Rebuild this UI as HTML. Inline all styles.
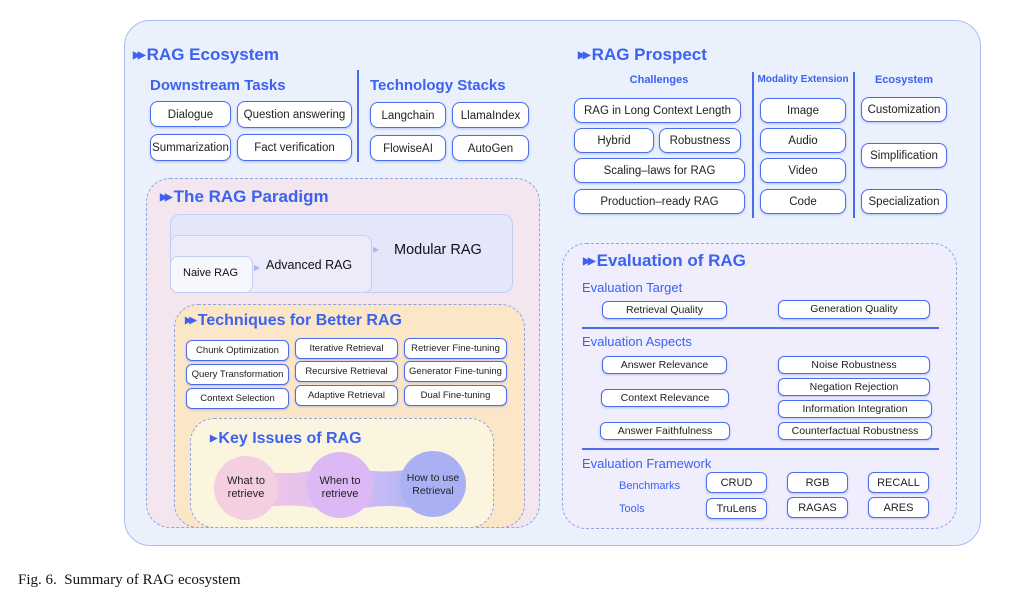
<!DOCTYPE html>
<html><head><meta charset="utf-8"><style>
*{margin:0;padding:0;box-sizing:border-box}
body{width:1011px;height:595px;background:#fff;position:relative;overflow:hidden;font-family:"Liberation Sans",sans-serif}
.a{position:absolute}
.b{position:absolute;display:flex;align-items:center;justify-content:center;text-align:center;background:#fff;border:1.4px solid #4a6cf0;border-radius:8px;font-size:11.5px;color:#222;box-shadow:0 1px 2px rgba(80,110,220,.35);white-space:nowrap;line-height:1.1;padding-top:2px}
.s{font-size:9.5px;border-radius:6px;padding-top:1px}
.t{position:absolute;color:#3c62f0;font-weight:bold;white-space:nowrap}
.h{position:absolute;color:#3c62f0;white-space:nowrap}
.arr{font-size:0.6em;letter-spacing:-3px;margin-right:4px;vertical-align:middle}
.d{position:absolute;border:1.5px dashed #8ea3e6;border-radius:24px}
.ln{position:absolute;background:#4a6cf0}
</style></head><body>
<div class="a" style="left:124px;top:20px;width:857px;height:526px;background:#eaf0fc;border:1.5px solid #a9bdf2;border-radius:26px"></div>

<div class="t" style="left:133px;top:45px;font-size:17px"><span class="arr">▶▶</span>RAG Ecosystem</div>
<div class="t" style="left:150px;top:77px;font-size:15px">Downstream Tasks</div>
<div class="t" style="left:370px;top:77px;font-size:15px">Technology Stacks</div>
<div class="ln" style="left:357px;top:70px;width:1.5px;height:92px"></div>
<div class="b" style="left:150px;top:101px;width:81px;height:26px">Dialogue</div>
<div class="b" style="left:237px;top:101px;width:115px;height:27px">Question answering</div>
<div class="b" style="left:150px;top:134px;width:81px;height:27px">Summarization</div>
<div class="b" style="left:237px;top:134px;width:115px;height:27px">Fact verification</div>
<div class="b" style="left:370px;top:102px;width:76px;height:26px">Langchain</div>
<div class="b" style="left:452px;top:102px;width:77px;height:26px">LlamaIndex</div>
<div class="b" style="left:370px;top:135px;width:76px;height:26px">FlowiseAI</div>
<div class="b" style="left:452px;top:135px;width:77px;height:26px">AutoGen</div>

<div class="t" style="left:578px;top:45px;font-size:17px"><span class="arr">▶▶</span>RAG Prospect</div>
<div class="t" style="left:574px;top:74px;width:170px;text-align:center;font-size:11px">Challenges</div>
<div class="t" style="left:753px;top:74px;width:100px;text-align:center;font-size:10px">Modality Extension</div>
<div class="t" style="left:854px;top:74px;width:100px;text-align:center;font-size:11px">Ecosystem</div>
<div class="ln" style="left:752px;top:72px;width:1.5px;height:146px"></div>
<div class="ln" style="left:853px;top:72px;width:1.5px;height:146px"></div>
<div class="b" style="left:574px;top:98px;width:167px;height:25px">RAG in Long Context Length</div>
<div class="b" style="left:574px;top:128px;width:80px;height:25px">Hybrid</div>
<div class="b" style="left:659px;top:128px;width:82px;height:25px">Robustness</div>
<div class="b" style="left:574px;top:158px;width:171px;height:25px">Scaling–laws for RAG</div>
<div class="b" style="left:574px;top:189px;width:171px;height:25px">Production–ready RAG</div>
<div class="b" style="left:760px;top:98px;width:86px;height:25px">Image</div>
<div class="b" style="left:760px;top:128px;width:86px;height:25px">Audio</div>
<div class="b" style="left:760px;top:158px;width:86px;height:25px">Video</div>
<div class="b" style="left:760px;top:189px;width:86px;height:25px">Code</div>
<div class="b" style="left:861px;top:97px;width:86px;height:25px">Customization</div>
<div class="b" style="left:861px;top:143px;width:86px;height:25px">Simplification</div>
<div class="b" style="left:861px;top:189px;width:86px;height:25px">Specialization</div>

<!-- Paradigm -->
<div class="d" style="left:146px;top:178px;width:394px;height:350px;background:#f3e6ee"></div>
<div class="t" style="left:160px;top:187px;font-size:17px"><span class="arr">▶▶</span>The RAG Paradigm</div>
<div class="a" style="left:170px;top:214px;width:343px;height:79px;background:#e4e6fa;border:1.5px solid #c5cdf5;border-radius:10px"></div>
<div class="a" style="left:170px;top:235px;width:202px;height:58px;background:#ebebfa;border:1.5px solid #c5cdf5;border-radius:8px"></div>
<div class="a" style="left:170px;top:256px;width:83px;height:37px;background:#f7f7fe;border:1.5px solid #c5cdf5;border-radius:8px"></div>
<div class="a" style="left:394px;top:242px;font-size:14.5px;color:#111">Modular RAG</div>
<div class="a" style="left:266px;top:258px;font-size:12.5px;color:#111">Advanced RAG</div>
<div class="a" style="left:183px;top:267px;font-size:11px;color:#111">Naive RAG</div>
<div class="a" style="left:373px;top:245px;color:#a9b8f2;font-size:8px">▶</div>
<div class="a" style="left:254px;top:263px;color:#a9b8f2;font-size:8px">▶</div>

<div class="d" style="left:174px;top:304px;width:351px;height:224px;background:#fbe6c8"></div>
<div class="t" style="left:185px;top:312px;font-size:16px"><span class="arr">▶▶</span>Techniques for Better RAG</div>
<div class="b s" style="left:186px;top:340px;width:103px;height:21px">Chunk Optimization</div>
<div class="b s" style="left:186px;top:364px;width:103px;height:21px">Query Transformation</div>
<div class="b s" style="left:186px;top:388px;width:103px;height:21px">Context Selection</div>
<div class="b s" style="left:295px;top:338px;width:103px;height:21px">Iterative Retrieval</div>
<div class="b s" style="left:295px;top:361px;width:103px;height:21px">Recursive Retrieval</div>
<div class="b s" style="left:295px;top:385px;width:103px;height:21px">Adaptive Retrieval</div>
<div class="b s" style="left:404px;top:338px;width:103px;height:21px">Retriever Fine-tuning</div>
<div class="b s" style="left:404px;top:361px;width:103px;height:21px">Generator Fine-tuning</div>
<div class="b s" style="left:404px;top:385px;width:103px;height:21px">Dual Fine-tuning</div>

<div class="d" style="left:190px;top:418px;width:304px;height:110px;background:#fbf5e0"></div>
<div class="t" style="left:210px;top:430px;font-size:16px"><span class="arr">▶</span>Key Issues of RAG</div>
<svg class="a" style="left:190px;top:440px" width="304" height="90">
<defs><linearGradient id="g" x1="0" x2="1"><stop offset="0" stop-color="#f3c7de"/><stop offset="0.5" stop-color="#dcc0f5"/><stop offset="1" stop-color="#a8b2f5"/></linearGradient></defs>
<path d="M56 28 Q100 40 150 24 Q200 40 243 22 L243 74 Q200 58 150 74 Q100 58 56 72 Z" fill="url(#g)"/>
<circle cx="56" cy="48" r="32" fill="#f4cfe0"/>
<circle cx="150" cy="45" r="33" fill="#dcb9f5"/>
<circle cx="243" cy="44" r="33" fill="#a9b1f4"/>
</svg>
<div class="a" style="left:214px;top:475px;width:64px;text-align:center;font-size:11px;color:#222;line-height:13px">What to<br>retrieve</div>
<div class="a" style="left:308px;top:475px;width:64px;text-align:center;font-size:11px;color:#222;line-height:13px">When to<br>retrieve</div>
<div class="a" style="left:400px;top:472px;width:66px;text-align:center;font-size:10.5px;color:#222;line-height:13px">How to use<br>Retrieval</div>

<!-- Evaluation -->
<div class="d" style="left:562px;top:243px;width:395px;height:286px;background:#f0eefc"></div>
<div class="t" style="left:583px;top:251px;font-size:17px"><span class="arr">▶▶</span>Evaluation of RAG</div>
<div class="h" style="left:582px;top:280px;font-size:13px">Evaluation Target</div>
<div class="b s" style="left:602px;top:301px;width:125px;height:18px;font-size:10.5px">Retrieval Quality</div>
<div class="b s" style="left:778px;top:300px;width:152px;height:19px;font-size:10.5px">Generation Quality</div>
<div class="ln" style="left:582px;top:327px;width:357px;height:1.5px"></div>
<div class="h" style="left:582px;top:334px;font-size:13px">Evaluation Aspects</div>
<div class="b s" style="left:602px;top:356px;width:125px;height:18px;font-size:10.5px">Answer Relevance</div>
<div class="b s" style="left:601px;top:389px;width:128px;height:18px;font-size:10.5px">Context Relevance</div>
<div class="b s" style="left:600px;top:422px;width:130px;height:18px;font-size:10.5px">Answer Faithfulness</div>
<div class="b s" style="left:778px;top:356px;width:152px;height:18px;font-size:10.5px">Noise Robustness</div>
<div class="b s" style="left:778px;top:378px;width:152px;height:18px;font-size:10.5px">Negation Rejection</div>
<div class="b s" style="left:778px;top:400px;width:154px;height:18px;font-size:10.5px">Information Integration</div>
<div class="b s" style="left:778px;top:422px;width:154px;height:18px;font-size:10.5px">Counterfactual Robustness</div>
<div class="ln" style="left:582px;top:448px;width:357px;height:1.5px"></div>
<div class="h" style="left:582px;top:456px;font-size:13px">Evaluation Framework</div>
<div class="h" style="left:619px;top:480px;font-size:11px">Benchmarks</div>
<div class="h" style="left:619px;top:503px;font-size:11px">Tools</div>
<div class="b s" style="left:706px;top:472px;width:61px;height:21px;font-size:11px">CRUD</div>
<div class="b s" style="left:787px;top:472px;width:61px;height:21px;font-size:11px">RGB</div>
<div class="b s" style="left:868px;top:472px;width:61px;height:21px;font-size:11px">RECALL</div>
<div class="b s" style="left:706px;top:498px;width:61px;height:21px;font-size:11px">TruLens</div>
<div class="b s" style="left:787px;top:497px;width:61px;height:21px;font-size:11px">RAGAS</div>
<div class="b s" style="left:868px;top:497px;width:61px;height:21px;font-size:11px">ARES</div>

<div class="a" style="left:18px;top:572px;font-family:'Liberation Serif',serif;font-size:15px;color:#111">Fig. 6.&nbsp; Summary of RAG ecosystem</div>
</body></html>
